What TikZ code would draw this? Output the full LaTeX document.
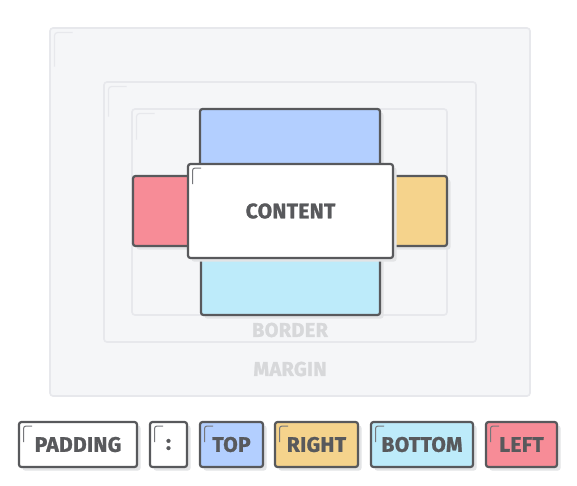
\documentclass[tikz,border=0pt]{standalone}
\usepackage{fontspec}
\setmainfont{Fira Sans}[LetterSpace=1.5, BoldFeatures={FakeBold=1.2}]
\usetikzlibrary{positioning,shadows}
\definecolor{ink}{HTML}{58595C}
\definecolor{tickgray}{HTML}{76777B}
\definecolor{pale}{HTML}{F5F6F8}
\definecolor{paleline}{HTML}{E7E8EC}
\definecolor{paletext}{HTML}{D7D8DA}
\definecolor{shade}{HTML}{E3E4E6}
\definecolor{topblue}{HTML}{B3CFFF}
\definecolor{rightyellow}{HTML}{F5D38C}
\definecolor{bottomcyan}{HTML}{BDEBFA}
\definecolor{leftred}{HTML}{F78C97}
\begin{document}
\begin{tikzpicture}[x=1pt, y=-1pt,
  zone/.style={draw=paleline, fill=pale, line width=1.6pt, rounded corners=3pt, inner sep=0pt,
    path picture={\draw[paleline, line width=1.2pt] ([xshift=4.5pt,yshift=-4.5pt-#1]path picture bounding box.north west) -- ++(0pt,#1) -- ++(18pt,0pt);}},
  box/.style={draw=ink, line width=2.2pt, rounded corners=2.5pt, inner sep=0pt,
    drop shadow={shadow xshift=3.5pt, shadow yshift=-3.5pt, fill=shade, opacity=1}},
  ticked/.style={box,
    path picture={\draw[tickgray, line width=1pt] ([xshift=4.5pt,yshift=-20pt]path picture bounding box.north west) -- ++(0pt,16pt) -- ++(8.5pt,0pt);}},
  legend/.style={ticked, minimum height=45pt, font=\bfseries\fontsize{21}{21}\selectfont, text=ink},
  faint/.style={text=paletext, font=\bfseries\fontsize{20}{20}\selectfont}]
  \fill[white] (0,0) rectangle (577,485);
  \useasboundingbox (0,0) rectangle (577,485);

  \node[zone=34pt, minimum width=480pt, minimum height=368pt] (margin) at (290,212) {};
  \node[zone=30pt, minimum width=372pt, minimum height=260pt] (border) at (290,212) {};
  \node[zone=26pt, minimum width=315pt, minimum height=206pt] (padbox) at (289.5,212) {};

  \node[box, fill=topblue, minimum width=180pt, minimum height=72pt] (top) at (290,145) {};
  \node[box, fill=bottomcyan, minimum width=179pt, minimum height=66pt] (bottom) at (290.5,282) {};
  \node[box, fill=leftred, minimum width=67pt, minimum height=70pt] (left) at (166.5,211) {};
  \node[box, fill=rightyellow, minimum width=67pt, minimum height=70pt] (right) at (413.5,211) {};
  \node[ticked, fill=white, minimum width=205pt, minimum height=94pt,
    font=\bfseries\fontsize{21}{21}\selectfont, text=ink] (content) at (290.5,211) {CONTENT};

  \node[faint] (borderlabel) at (290,330) {BORDER};
  \node[faint] (marginlabel) at (290,369) {MARGIN};

  \node[legend, fill=white, minimum width=118pt] (lpad) at (78,444.5) {PADDING};
  \node[legend, fill=white, minimum width=37pt] (lcolon) at (168.5,444.5) {:};
  \node[legend, fill=topblue, minimum width=63pt] (ltop) at (231.5,444.5) {TOP};
  \node[legend, fill=rightyellow, minimum width=83pt] (lright) at (316.5,444.5) {RIGHT};
  \node[legend, fill=bottomcyan, minimum width=102pt] (lbottom) at (422,444.5) {BOTTOM};
  \node[legend, fill=leftred, minimum width=71pt] (lleft) at (521.5,444.5) {LEFT};
\end{tikzpicture}
\end{document}
